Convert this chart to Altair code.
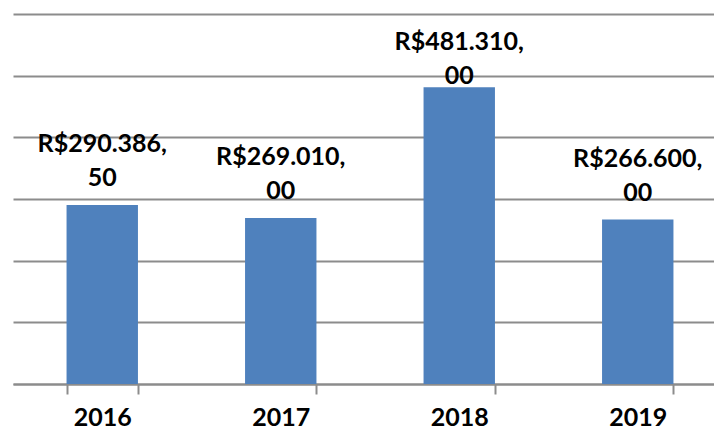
import altair as alt
import pandas as pd

years = ["2016", "2017", "2018", "2019"]
values = [290386.50, 269010.00, 481310.00, 266600.00]


def brl(v):
    s = f"{v:,.2f}".replace(",", "X").replace(".", ",").replace("X", ".")
    whole, dec = s.split(",")
    return f"R${whole},\n{dec}"


labels = [brl(v) for v in values]

df = pd.DataFrame({"year": years, "value": values, "label": labels})

FONT = "Lato"

x = alt.X(
    "year:N",
    sort=years,
    scale=alt.Scale(range=[0, 714], paddingInner=0.6, paddingOuter=0.3),
    axis=alt.Axis(
        title=None,
        labelAngle=0,
        tickBand="extent",
        tickSize=10,
        tickColor="#8c8c8c",
        tickWidth=2,
        domainColor="#8c8c8c",
        domainWidth=2,
        labelFont=FONT,
        labelFontSize=25,
        labelFontWeight="bold",
        labelColor="#000000",
        labelBaseline="alphabetic",
        labelPadding=31,
        grid=False,
    ),
)

y = alt.Y(
    "value:Q",
    scale=alt.Scale(domain=[0, 600000], nice=False),
    axis=alt.Axis(
        title=None,
        labels=False,
        ticks=False,
        domain=False,
        values=[0, 100000, 200000, 300000, 400000, 500000, 600000],
        grid=True,
        gridColor="#8c8c8c",
        gridWidth=2,
    ),
)

bars = alt.Chart(df).mark_bar(color="#4F81BD").encode(x=x, y=y)

text = (
    alt.Chart(df)
    .transform_calculate(pos="min(datum.value, 455000)")
    .mark_text(
        font=FONT,
        fontSize=25,
        fontWeight="bold",
        color="#000000",
        baseline="bottom",
        dy=-48,
        lineBreak="\n",
        lineHeight=34,
    )
    .encode(x=alt.X("year:N", sort=years), y=alt.Y("pos:Q"), text="label:N")
)

chart = (
    alt.layer(bars, text)
    .properties(
        width=701,
        height=370,
        padding={"left": 5, "top": 6, "right": 0, "bottom": 45},
        autosize=alt.AutoSizeParams(type="none"),
    )
    .configure_view(stroke=None)
)

chart.save("out.html", embed_options={"renderer": "svg", "actions": False})
